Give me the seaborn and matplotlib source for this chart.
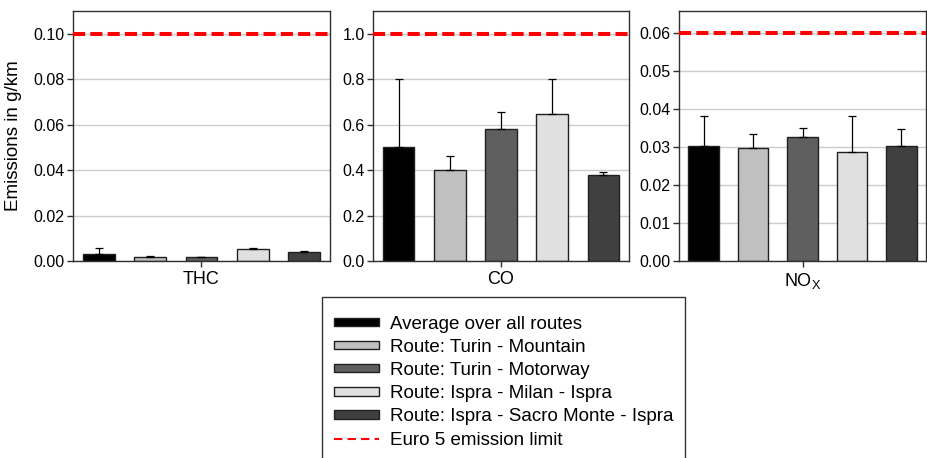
import numpy as np
import pandas as pd
import matplotlib
matplotlib.use("Agg")
import matplotlib.pyplot as plt
import seaborn as sns
from matplotlib.lines import Line2D
from matplotlib.patches import Patch

# ---------------- data ----------------
routes = [
    "Average over all routes",
    "Route: Turin - Mountain",
    "Route: Turin - Motorway",
    "Route: Ispra - Milan - Ispra",
    "Route: Ispra - Sacro Monte - Ispra",
]
colors = ["#000000", "#c0c0c0", "#5f5f5f", "#e0e0e0", "#404040"]
pollutants = ["THC", "CO", "NOx"]
pollutant_labels = ["THC", "CO", "NO$_\\mathregular{X}$"]

thc = [0.0031, 0.0019, 0.0016, 0.0051, 0.0038]
thc_upper = [0.0056, 0.0024, 0.0020, 0.0057, 0.0046]
co = [0.503, 0.400, 0.582, 0.647, 0.377]
co_upper = [0.800, 0.462, 0.657, 0.800, 0.393]
nox = [0.0304, 0.0297, 0.0326, 0.0286, 0.0302]
nox_upper = [0.0381, 0.0334, 0.0350, 0.0381, 0.0347]

euro5_limits = [0.10, 1.0, 0.06]
ylims = [0.11, 1.1, 0.0657]
yticks = [
    [0.00, 0.02, 0.04, 0.06, 0.08, 0.10],
    [0.0, 0.2, 0.4, 0.6, 0.8, 1.0],
    [0.00, 0.01, 0.02, 0.03, 0.04, 0.05, 0.06],
]
ytick_fmt = ["{:.2f}", "{:.1f}", "{:.2f}"]
ylabel = "Emissions in g/km"
limit_label = "Euro 5 emission limit"

values = [thc, co, nox]
uppers = [thc_upper, co_upper, nox_upper]

# ---------------- style ----------------
sns.set_theme(style="white")
plt.rcParams["font.family"] = ["Liberation Sans", "DejaVu Sans"]
plt.rcParams["mathtext.fontset"] = "custom"
plt.rcParams["mathtext.rm"] = "Liberation Sans"
plt.rcParams["mathtext.it"] = "Liberation Sans"
plt.rcParams["text.color"] = "black"
plt.rcParams["axes.labelcolor"] = "black"
plt.rcParams["xtick.labelcolor"] = "black"
plt.rcParams["ytick.labelcolor"] = "black"

fig = plt.figure(figsize=(9.27, 4.58), dpi=100)
fig.patch.set_facecolor("white")

bottom = 0.430
tops = [0.976, 0.976, 0.975]
lefts = [0.0787, 0.4024, 0.7325]
rights = [0.3560, 0.6785, 0.9990]
spine_col = "#303030"

for i, pol in enumerate(pollutants):
    ax = fig.add_axes([lefts[i], bottom, rights[i] - lefts[i], tops[i] - bottom])
    df = pd.DataFrame({"pollutant": [pol] * len(routes),
                       "route": routes,
                       "value": values[i],
                       "upper": uppers[i]})
    sns.barplot(data=df, x="pollutant", y="value", hue="route",
                hue_order=routes, palette=colors, width=1.0, gap=0.38,
                edgecolor="#202020", linewidth=1.0, errorbar=None,
                legend=False, ax=ax, zorder=2)
    for cont, up in zip(ax.containers, uppers[i]):
        for bar in cont:
            xc = bar.get_x() + bar.get_width() / 2
            h = bar.get_height()
            ax.errorbar([xc], [h], yerr=[[0], [up - h]], fmt="none",
                        ecolor="black", elinewidth=0.9, capsize=3,
                        capthick=0.9, zorder=3)
    ax.axhline(euro5_limits[i], color="#ff0000", lw=2.9,
               dashes=(3, 1.3), zorder=4)
    ax.set_xlim(-0.5, 0.5)
    ax.set_ylim(0, ylims[i])
    ax.set_yticks(yticks[i])
    ax.set_yticklabels([ytick_fmt[i].format(t) for t in yticks[i]])
    ax.set_xticks([0])
    ax.set_xticklabels([pollutant_labels[i]], fontsize=13)
    ax.set_xlabel("")
    ax.set_ylabel(ylabel if i == 0 else "", fontsize=13.5, labelpad=8)
    ax.yaxis.grid(True, color="#cccccc", lw=1.0, zorder=0)
    ax.set_axisbelow(True)
    for s in ax.spines.values():
        s.set_visible(True)
        s.set_color(spine_col)
        s.set_linewidth(1.0)
    ax.tick_params(axis="y", direction="out", length=4, width=1,
                   color=spine_col, labelsize=11.5, pad=2, left=True)
    ax.tick_params(axis="x", direction="out", length=4, width=1,
                   color=spine_col, pad=3, bottom=True)

handles = [Patch(facecolor=c, edgecolor="#202020", linewidth=1.0) for c in colors]
handles.append(Line2D([0], [0], color="#ff0000", lw=1.5, dashes=(4, 2.5)))
labels = routes + [limit_label]
leg = fig.legend(handles, labels, loc="upper center",
                 bbox_to_anchor=(0.5435, 0.352), ncol=1, fontsize=13.5,
                 title=" ", title_fontsize=1,
                 frameon=True, fancybox=False, edgecolor="black",
                 handlelength=2.4, handleheight=0.3, handletextpad=0.6,
                 labelspacing=0.33, borderpad=0.62, borderaxespad=0)
leg.get_frame().set_linewidth(1.0)

fig.savefig("out.png", dpi=100, facecolor="white")
